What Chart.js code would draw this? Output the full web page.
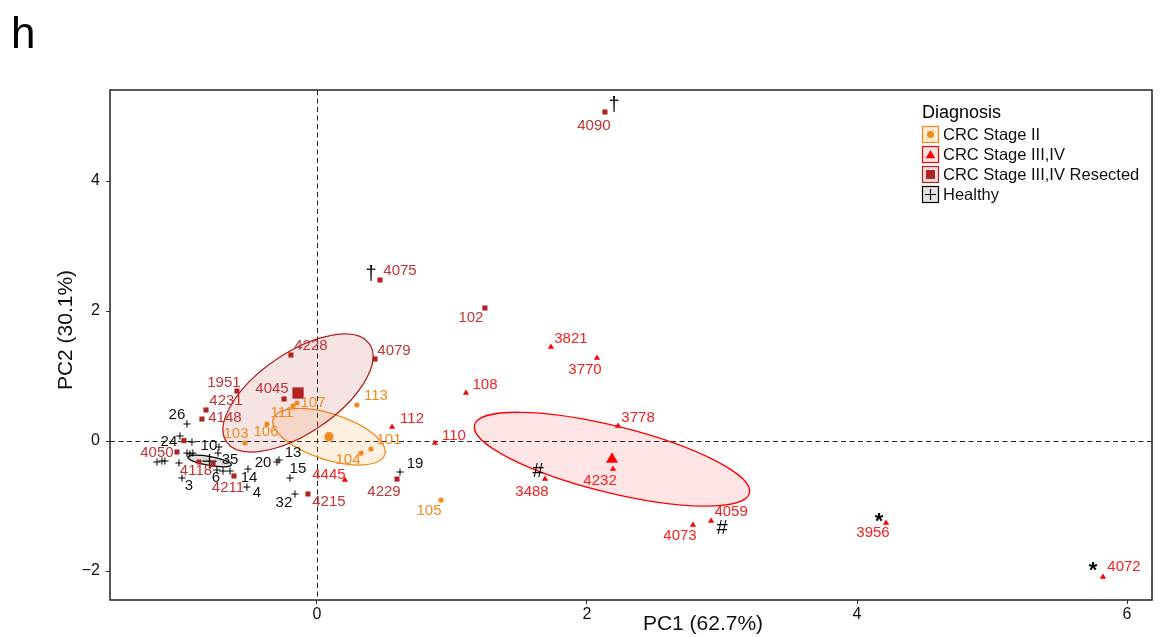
<!DOCTYPE html>
<html>
<head>
<meta charset="utf-8">
<script src="https://cdn.jsdelivr.net/npm/chart.js@4.4.1/dist/chart.umd.min.js"></script>
<style>
  body { margin: 0; background: #fff; }
  #wrap { width: 1162px; height: 637px; }
</style>
</head>
<body>
<div id="wrap"><canvas id="pca" width="1162" height="637"></canvas></div>
<script>
// PCA individuals plot - PC1 vs PC2, coloured by diagnosis

const groupNames = ["CRC Stage II", "CRC Stage III,IV", "CRC Stage III,IV Resected", "Healthy"];

// CRC Stage II
const stage2Labels = ["113", "107", "111", "106", "103", "101", "104", "105"];
const stage2X = [0.296, -0.148, -0.178, -0.370, -0.533, 0.400, 0.326, 0.919];
const stage2Y = [0.554, 0.585, 0.538, 0.262, -0.031, -0.123, -0.185, -0.908];

// CRC Stage III,IV
const stage3Labels = ["3821", "3770", "108", "112", "110", "3778", "4232", "3488", "4059", "4073", "3956", "4072", "4445"];
const stage3X = [1.733, 2.074, 1.104, 0.556, 0.874, 2.230, 2.193, 1.689, 2.919, 2.785, 4.215, 5.822, 0.207];
const stage3Y = [1.446, 1.277, 0.738, 0.215, -0.031, 0.231, -0.431, -0.585, -1.231, -1.292, -1.262, -2.092, -0.600];

// CRC Stage III,IV Resected
const resectedLabels = ["4090", "4075", "102", "4228", "4079", "1951", "4045", "4231", "4148", "", "4050", "4118", "", "4211", "4215", "4229"];
const resectedX = [2.133, 0.467, 1.244, -0.193, 0.430, -0.593, -0.244, -0.822, -0.852, -0.985, -1.037, -0.874, -0.770, -0.615, -0.067, 0.593];
const resectedY = [5.062, 2.477, 2.046, 1.323, 1.262, 0.769, 0.646, 0.477, 0.338, 0.005, -0.169, -0.323, -0.354, -0.538, -0.815, -0.585];

// Healthy
const healthyLabels = ["26", "24", "", "10", "35", "6", "", "", "14", "4", "3", "20", "13", "15", "32", "19", "", "", "", "", "", "", ""];
const healthyX = [-0.963, -1.015, -0.926, -0.726, -0.733, -0.741, -0.696, -0.644, -0.511, -0.519, -1.000, -0.296, -0.281, -0.200, -0.163, 0.615, -1.185, -1.148, -1.126, -1.022, -0.963, -0.941, -0.919];
const healthyY = [0.262, 0.077, -0.015, -0.092, -0.185, -0.446, -0.462, -0.462, -0.431, -0.708, -0.569, -0.323, -0.292, -0.569, -0.815, -0.477, -0.323, -0.308, -0.308, -0.338, -0.185, -0.200, -0.185];

// group means (big markers) and confidence ellipse axes, same order as groupNames
const centroidX = [0.089, 2.185, -0.140, -0.796];
const centroidY = [0.066, -0.280, 0.738, -0.308];
const ellipseU = [[0.413, -0.276], [1.0185, -0.523], [0.5296, 0.752], [0.161, -0.059]];
const ellipseV = [[-0.052, -0.337], [-0.059, -0.498], [0.167, -0.508], [-0.0058, -0.068]];

// extra marks put next to some samples
const markSamples = ["4090", "4075", "3488", "4059", "3956", "4072"];
const markSymbols = ["\u2020", "\u2020", "#", "#", "*", "*"];

// axes
const xTicks = [0, 2, 4, 6];
const yTicks = [-2, 0, 2, 4];
const xTitle = "PC1 (62.7%)";
const yTitle = "PC2 (30.1%)";
const panelTag = "h";

// ---- styling ----
const FONT = "'Liberation Sans', Arial, sans-serif";
const colors = ["#F08A1C", "#FF0000", "#B22222", "#000000"];
const labelColors = ["#F08A1C", "#F52020", "#BE3535", "#111111"];
const ellipseFill = ["rgba(250,160,60,0.16)", "rgba(255,40,40,0.12)", "rgba(178,34,34,0.12)", "rgba(0,0,0,0.13)"];
const styles = ["circle", "triangle", "rect", "cross"];
const smallRadius = [2.6, 3.6, 3.6, 3.6];
const bigRadius = [4.6, 7.0, 8.0, 7.0];

// label offsets in px (label centre minus point)
const labelOffsets = {
  "4090": [-11, 14], "4075": [20, -9], "102": [-14, 10], "4228": [20, -9], "4079": [19, -8],
  "1951": [-13, -8], "4045": [-12, -10], "4231": [20, -9], "4148": [23, -1], "4050": [-20, 1],
  "4118": [-3, 9], "4211": [-6, 12], "4215": [21, 8], "4229": [-13, 13],
  "113": [19, -9], "107": [16, 0], "111": [-11, 7], "106": [-1, 8], "103": [-9, -9],
  "101": [18, -9], "104": [-13, 7], "105": [-12, 11],
  "3821": [20, -8], "3770": [-12, 12], "108": [19, -8], "112": [20, -8], "110": [19, -7],
  "3778": [20, -8], "4232": [-13, 12], "3488": [-13, 13], "4059": [20, -9], "4073": [-13, 11],
  "3956": [-13, 10], "4072": [21, -10], "4445": [-16, -5],
  "26": [-10, -9], "24": [-11, 6], "10": [-10, -1], "35": [12, 7], "6": [-1, 8], "14": [1, 9],
  "4": [10, 6], "3": [7, 8], "20": [-14, 1], "13": [14, -7], "15": [8, -9], "32": [-11, 9], "19": [15, -8]
};
const markOffsets = [[9, -6], [-9, -6], [-7, -8], [11, 7], [-7, -1], [-10, -6]];

const groupX = [stage2X, stage3X, resectedX, healthyX];
const groupY = [stage2Y, stage3Y, resectedY, healthyY];
const groupLabels = [stage2Labels, stage3Labels, resectedLabels, healthyLabels];

const toPoints = (xs, ys) => xs.map((x, i) => ({ x: x, y: ys[i] }));

const datasets = [];
// draw healthy first so coloured points sit on top
[3, 0, 2, 1].forEach((g) => {
  datasets.push({
    label: groupNames[g],
    data: toPoints(groupX[g], groupY[g]),
    pointStyle: styles[g],
    pointRadius: smallRadius[g],
    backgroundColor: colors[g],
    borderColor: colors[g],
    borderWidth: g === 3 ? 1 : 0,
  });
});
[3, 0, 2, 1].forEach((g) => {
  datasets.push({
    label: groupNames[g] + " mean",
    data: [{ x: centroidX[g], y: centroidY[g] }],
    pointStyle: styles[g],
    pointRadius: bigRadius[g],
    backgroundColor: colors[g],
    borderColor: colors[g],
    borderWidth: g === 3 ? 1.3 : 0,
  });
});

const fmtTick = (v) => (v < 0 ? "\u2212" + Math.abs(v) : String(v));

function drawEllipse(ctx, xs, ys, g) {
  const c = [centroidX[g], centroidY[g]];
  const u = ellipseU[g], v = ellipseV[g];
  const cx = xs.getPixelForValue(c[0]), cy = ys.getPixelForValue(c[1]);
  const ux = xs.getPixelForValue(c[0] + u[0]) - cx, uy = ys.getPixelForValue(c[1] + u[1]) - cy;
  const vx = xs.getPixelForValue(c[0] + v[0]) - cx, vy = ys.getPixelForValue(c[1] + v[1]) - cy;
  ctx.save();
  ctx.beginPath();
  ctx.transform(ux, uy, vx, vy, cx, cy);
  ctx.arc(0, 0, 1, 0, Math.PI * 2);
  ctx.restore();
  ctx.save();
  ctx.fillStyle = ellipseFill[g];
  ctx.fill();
  ctx.strokeStyle = colors[g];
  ctx.lineWidth = 1.3;
  ctx.stroke();
  ctx.restore();
}

const pcaPlugin = {
  id: "pcaDecor",
  beforeDatasetsDraw(chart) {
    const { ctx, chartArea: a, scales } = chart;
    const xs = scales.x, ys = scales.y;
    ctx.save();
    ctx.strokeStyle = "#222";
    ctx.lineWidth = 1;
    ctx.setLineDash([5, 3.5]);
    ctx.beginPath();
    const x0 = Math.round(xs.getPixelForValue(0)) + 0.5;
    const y0 = Math.round(ys.getPixelForValue(0)) + 0.5;
    ctx.moveTo(x0, a.top);
    ctx.lineTo(x0, a.bottom);
    ctx.moveTo(a.left, y0);
    ctx.lineTo(a.right, y0);
    ctx.stroke();
    ctx.restore();
    [3, 0, 2, 1].forEach((g) => drawEllipse(ctx, xs, ys, g));
  },
  afterDatasetsDraw(chart) {
    const { ctx, chartArea: a, scales } = chart;
    const xs = scales.x, ys = scales.y;
    const where = {};

    // sample labels
    ctx.save();
    ctx.font = "15px " + FONT;
    ctx.textAlign = "center";
    ctx.textBaseline = "middle";
    for (let g = 0; g < 4; g++) {
      groupLabels[g].forEach((lab, i) => {
        const px = xs.getPixelForValue(groupX[g][i]);
        const py = ys.getPixelForValue(groupY[g][i]);
        if (!lab) return;
        where[lab] = [px, py];
        const off = labelOffsets[lab] || [12, -8];
        ctx.fillStyle = labelColors[g];
        ctx.fillText(lab, px + off[0], py + off[1]);
      });
    }
    // symbols
    ctx.fillStyle = "#000";
    markSamples.forEach((s, i) => {
      const p = where[s];
      if (!p) return;
      ctx.font = (markSymbols[i] === "*" ? "bold 22px " : "20px ") + FONT;
      ctx.fillText(markSymbols[i], p[0] + markOffsets[i][0], p[1] + markOffsets[i][1]);
    });
    ctx.restore();

    // panel frame
    ctx.save();
    ctx.strokeStyle = "#222";
    ctx.lineWidth = 1.5;
    ctx.strokeRect(a.left, a.top, a.right - a.left, a.bottom - a.top);
    ctx.restore();

    // legend
    ctx.save();
    const lx = 922, ly = 126, row = 20, key = 17;
    ctx.fillStyle = "#000";
    ctx.font = "18px " + FONT;
    ctx.textAlign = "left";
    ctx.textBaseline = "alphabetic";
    ctx.fillText("Diagnosis", lx, 118);
    const keyFill = ["#FDEBD6", "#FDE2E2", "#F0DCDC", "#E2E2E2"];
    ctx.font = "16.5px " + FONT;
    ctx.textBaseline = "middle";
    for (let g = 0; g < 4; g++) {
      const top = ly + g * row;
      ctx.fillStyle = keyFill[g];
      ctx.fillRect(lx, top, key, key);
      ctx.strokeStyle = colors[g];
      ctx.lineWidth = 1.2;
      ctx.strokeRect(lx + 0.5, top + 0.5, key - 1, key - 1);
      const kx = lx + key / 2, ky = top + key / 2;
      const r = [3.5, 5.5, 6.3, 5.5][g];
      ctx.fillStyle = colors[g];
      ctx.strokeStyle = colors[g];
      Chart.helpers.drawPoint(ctx, { pointStyle: styles[g], radius: r, borderWidth: g === 3 ? 1.2 : 0 }, kx, ky + (g === 1 ? 1 : 0));
      ctx.fillStyle = "#111";
      ctx.fillText(groupNames[g], lx + key + 4, ky + 1);
    }
    ctx.restore();

    // titles
    ctx.save();
    ctx.fillStyle = "#111";
    ctx.font = "21px " + FONT;
    ctx.textAlign = "center";
    ctx.textBaseline = "middle";
    ctx.fillText(xTitle, 703, 624);
    ctx.translate(66, 330);
    ctx.rotate(-Math.PI / 2);
    ctx.fillText(yTitle, 0, 0);
    ctx.restore();

    ctx.save();
    ctx.fillStyle = "#000";
    ctx.font = "44px " + FONT;
    ctx.textBaseline = "alphabetic";
    ctx.fillText(panelTag, 11, 48);
    ctx.restore();
  },
};

new Chart("pca", {
  type: "scatter",
  data: { datasets: datasets },
  options: {
    responsive: false,
    animation: false,
    devicePixelRatio: 1,
    layout: { padding: { top: 90, right: 10, left: 0, bottom: 0 } },
    plugins: { legend: { display: false }, tooltip: { enabled: false } },
    events: [],
    scales: {
      x: {
        type: "linear",
        min: -1.533,
        max: 6.185,
        afterBuildTicks: (s) => { s.ticks = xTicks.map((v) => ({ value: v })); },
        afterFit: (s) => { s.height = 37; },
        grid: { drawOnChartArea: false, drawTicks: true, tickLength: 4, color: "#333", lineWidth: 1 },
        border: { display: false },
        ticks: { font: { family: FONT, size: 16 }, color: "#111", padding: 1, maxRotation: 0, callback: fmtTick },
      },
      y: {
        type: "linear",
        min: -2.446,
        max: 5.4,
        afterBuildTicks: (s) => { s.ticks = yTicks.map((v) => ({ value: v })); },
        afterFit: (s) => { s.width = 110; },
        grid: { drawOnChartArea: false, drawTicks: true, tickLength: 4, color: "#333", lineWidth: 1 },
        border: { display: false },
        ticks: { font: { family: FONT, size: 16 }, color: "#111", padding: 6, callback: fmtTick },
      },
    },
  },
  plugins: [pcaPlugin],
});
</script>
</body>
</html>
